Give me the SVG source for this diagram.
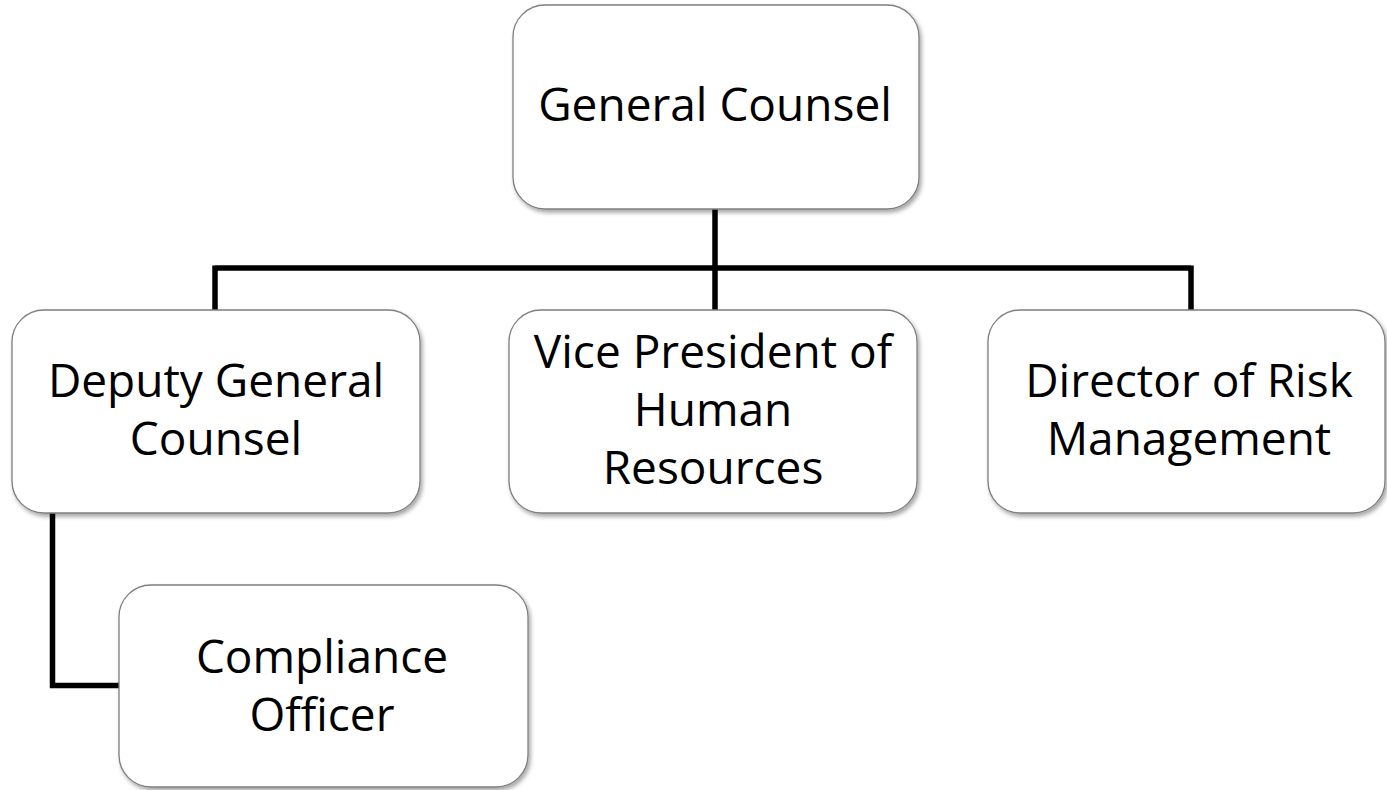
<svg xmlns="http://www.w3.org/2000/svg" width="1387" height="790" viewBox="0 0 1387 790">
<style>
.box{fill:#fff;stroke:#7f7f7f;stroke-width:1.3;filter:url(#sh)}
.t{font-family:"Open Sans","Liberation Sans",sans-serif;font-size:46px;fill:#000;text-anchor:middle}
.c{fill:none;stroke:#000;stroke-width:5.5;stroke-linejoin:miter}
</style>
<defs>
<filter id="sh" x="-10%" y="-10%" width="120%" height="120%">
<feDropShadow dx="2" dy="3" stdDeviation="2" flood-color="#000" flood-opacity="0.35"/>
</filter>
</defs>
<g id="connectors">
<path class="c" d="M715 209 V268 M215 268 H1191 M215 265.5 V311 M715 265.5 V311 M1191 265.5 V311"/>
<path class="c" d="M52.5 513 V685.5 H120"/>
</g>
<g id="general-counsel">
<rect class="box" x="513" y="5" width="406" height="204" rx="32"/>
<text class="t" x="715" y="121">General Counsel</text>
</g>
<g id="deputy-general-counsel">
<rect class="box" x="12" y="310" width="408" height="203" rx="32"/>
<text class="t" x="216" y="397">Deputy General</text>
<text class="t" x="216" y="455">Counsel</text>
</g>
<g id="vp-human-resources">
<rect class="box" x="509" y="310" width="408" height="203" rx="32"/>
<text class="t" x="713" y="368">Vice President of</text>
<text class="t" x="713" y="426">Human</text>
<text class="t" x="713" y="484">Resources</text>
</g>
<g id="director-risk-management">
<rect class="box" x="988" y="310" width="397" height="203" rx="32"/>
<text class="t" x="1189" y="397">Director of Risk</text>
<text class="t" x="1189" y="455">Management</text>
</g>
<g id="compliance-officer">
<rect class="box" x="119" y="585" width="409" height="202" rx="32"/>
<text class="t" x="322" y="673">Compliance</text>
<text class="t" x="322" y="731">Officer</text>
</g>
</svg>
